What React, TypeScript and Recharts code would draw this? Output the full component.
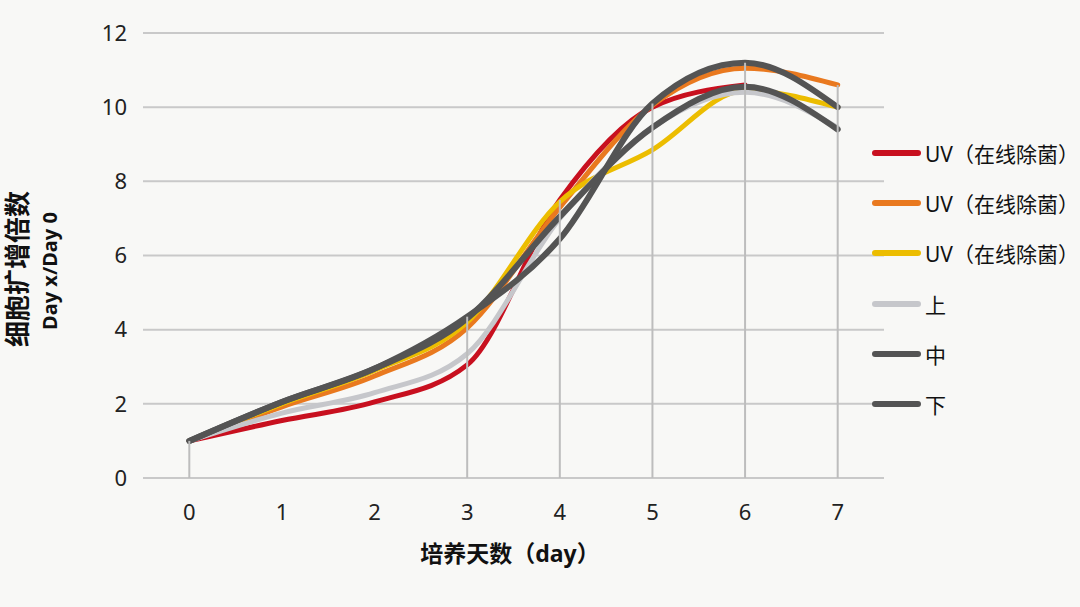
import React from "react";
import { LineChart, Line, XAxis, YAxis, CartesianGrid, ReferenceLine } from "recharts";

const days = [0, 1, 2, 3, 4, 5, 6, 7];
const uvRed = [1, 1.55, 2.05, 3.05, 7.5, 10.0, 10.6, null];
const uvOrange = [1, 1.92, 2.75, 4.05, 7.3, 10.05, 11.05, 10.6];
const uvYellow = [1, 2.0, 2.9, 4.2, 7.45, 8.85, 10.45, 10.0];
const shang = [1, 1.75, 2.3, 3.35, 7.0, 9.45, 10.4, 9.45];
const zhong = [1, 2.05, 2.95, 4.35, 6.45, 10.1, 11.2, 10.0];
const xia = [1, 2.05, 2.95, 4.3, 7.05, 9.45, 10.55, 9.4];
const yTicks = [0, 2, 4, 6, 8, 10, 12];
const dropDays = [0, 3, 4, 5, 6, 7];

const seriesNames = ["UV（在线除菌）", "UV（在线除菌）", "UV（在线除菌）", "上", "中", "下"];
const seriesColors = ["#c8101f", "#e9791f", "#ecbd00", "#c6c7cb", "#545454", "#545454"];
const seriesWidths = [5, 5, 5, 5, 6, 6];
const seriesValues = [uvRed, uvOrange, uvYellow, shang, zhong, xia];
const seriesKeys = ["s0", "s1", "s2", "s3", "s4", "s5"];

const data = days.map((d, i) => {
  const row: any = { day: d };
  seriesKeys.forEach((k, j) => {
    row[k] = seriesValues[j][i];
  });
  return row;
});

const dropMax = dropDays.map((d) => {
  const i = days.indexOf(d);
  let m = 0;
  seriesValues.forEach((s) => {
    const v = s[i];
    if (v != null && v > m) m = v;
  });
  return { day: d, max: m };
});

const FONT = "'Noto Sans', 'Noto Sans CJK SC', sans-serif";

const YLabel = () => (
  <g>
    <text
      x={17}
      y={269}
      transform="rotate(-90 17 269)"
      textAnchor="middle"
      dominantBaseline="central"
      fontFamily={FONT}
      fontWeight="bold"
      fontSize={26}
      fill="#111"
    >
      细胞扩增倍数
    </text>
    <text
      x={49}
      y={271}
      transform="rotate(-90 49 271)"
      textAnchor="middle"
      dominantBaseline="central"
      fontFamily={FONT}
      fontWeight="bold"
      fontSize={20}
      fill="#111"
    >
      Day x/Day 0
    </text>
  </g>
);

const XLabel = () => (
  <text
    x={510}
    y={553}
    textAnchor="middle"
    dominantBaseline="central"
    fontFamily={FONT}
    fontWeight="bold"
    fontSize={23}
    fill="#111"
  >
    培养天数（day）
  </text>
);

export default function App() {
  return (
    <div
      style={{
        position: "absolute",
        left: 0,
        top: 0,
        width: 1080,
        height: 607,
        background: "#f8f8f6",
        fontFamily: FONT,
      }}
    >
      <LineChart
        width={1080}
        height={607}
        data={data}
        margin={{ top: 33, right: 196, bottom: 89, left: 0 }}
      >
        <CartesianGrid vertical={false} stroke="#c9c9c9" strokeWidth={2} />
        <XAxis
          dataKey="day"
          type="number"
          domain={[-0.5, 7.5]}
          ticks={days}
          axisLine={false}
          tickLine={false}
          tickMargin={20}
          height={40}
          tick={{ fontSize: 22, fill: "#222", fontFamily: FONT }}
          label={<XLabel />}
        />
        <YAxis
          type="number"
          domain={[0, 12]}
          ticks={yTicks}
          axisLine={false}
          tickLine={false}
          tickMargin={10}
          width={143}
          tick={{ fontSize: 22, fill: "#222", fontFamily: FONT }}
          label={<YLabel />}
        />
        {seriesKeys.map((k, j) => (
          <Line
            key={k}
            dataKey={k}
            type="monotone"
            stroke={seriesColors[j]}
            strokeWidth={seriesWidths[j]}
            strokeLinecap="round"
            dot={false}
            activeDot={false}
            isAnimationActive={false}
          />
        ))}
        {dropMax.map((d) => (
          <ReferenceLine
            key={d.day}
            segment={[
              { x: d.day, y: 0 },
              { x: d.day, y: d.max },
            ]}
            stroke="#bdbdbd"
            strokeWidth={2}
          />
        ))}
      </LineChart>
      <div style={{ position: "absolute", left: 870, top: 128 }}>
        {seriesNames.map((n, j) => (
          <div
            key={j}
            style={{ display: "flex", alignItems: "center", height: 50.2 }}
          >
            <svg width={52} height={10} style={{ display: "block" }}>
              <line
                x1={5}
                y1={5}
                x2={48}
                y2={5}
                stroke={seriesColors[j]}
                strokeWidth={6}
                strokeLinecap="round"
              />
            </svg>
            <span
              style={{
                fontSize: 21,
                color: "#111",
                fontFamily: FONT,
                marginLeft: 3,
                whiteSpace: "nowrap",
              }}
            >
              {n}
            </span>
          </div>
        ))}
      </div>
    </div>
  );
}
